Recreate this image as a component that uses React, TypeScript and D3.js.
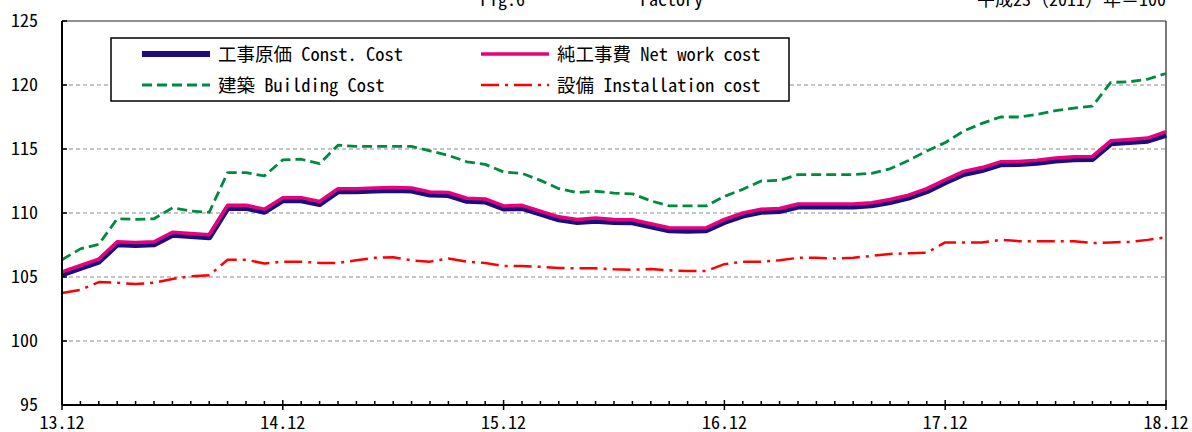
import React, { useEffect, useRef } from 'react';
import * as d3 from 'd3';

// monthly index, 2013.12 .. 2018.12 (61 points)
const tickLabels = ['13.12', '14.12', '15.12', '16.12', '17.12', '18.12'];
const yTicks = [95, 100, 105, 110, 115, 120, 125];

const constCost = [
  105.2, 105.7, 106.2, 107.55, 107.5, 107.55, 108.3, 108.2, 108.1, 110.4, 110.4, 110.1,
  111.0, 111.0, 110.7, 111.7, 111.7, 111.75, 111.8, 111.75, 111.45, 111.4, 110.95, 110.9,
  110.35, 110.4, 109.95, 109.5, 109.3, 109.4, 109.3, 109.27, 108.96, 108.65, 108.62, 108.65,
  109.3, 109.8, 110.1, 110.15, 110.5, 110.5, 110.5, 110.5, 110.6, 110.85, 111.2, 111.7,
  112.4, 113.05, 113.35, 113.8, 113.83, 113.93, 114.1, 114.2, 114.22, 115.44, 115.55, 115.65,
  116.1,
];

const netWorkCost = [
  105.4, 105.9, 106.4, 107.75, 107.7, 107.75, 108.5, 108.4, 108.3, 110.6, 110.6, 110.3,
  111.2, 111.2, 110.9, 111.9, 111.9, 111.95, 112.0, 111.95, 111.65, 111.6, 111.15, 111.1,
  110.55, 110.6, 110.15, 109.7, 109.5, 109.6, 109.5, 109.47, 109.16, 108.85, 108.82, 108.85,
  109.5, 110.0, 110.3, 110.35, 110.7, 110.7, 110.7, 110.7, 110.8, 111.05, 111.4, 111.9,
  112.6, 113.25, 113.55, 114.0, 114.03, 114.13, 114.3, 114.4, 114.42, 115.64, 115.75, 115.85,
  116.35,
];

const buildingCost = [
  106.35, 107.2, 107.55, 109.55, 109.5, 109.55, 110.4, 110.15, 110.05, 113.15, 113.15, 112.9,
  114.15, 114.2, 113.85, 115.3, 115.2, 115.2, 115.2, 115.2, 114.85, 114.5, 114.0, 113.8,
  113.2, 113.1, 112.55, 111.9, 111.6, 111.7, 111.55, 111.5, 110.95, 110.55, 110.55, 110.55,
  111.3, 111.85, 112.5, 112.55, 113.0, 113.0, 113.0, 113.0, 113.1, 113.45, 114.1, 114.85,
  115.5, 116.4, 117.0, 117.5, 117.5, 117.7, 118.0, 118.2, 118.35, 120.2, 120.25, 120.45,
  120.9,
];

const installationCost = [
  103.75, 104.0, 104.6, 104.55, 104.45, 104.55, 104.85, 105.05, 105.13, 106.35, 106.35, 106.05,
  106.2, 106.2, 106.1, 106.1, 106.3, 106.5, 106.55, 106.3, 106.2, 106.45, 106.2, 106.1,
  105.85, 105.85, 105.8, 105.7, 105.68, 105.68, 105.6, 105.57, 105.62, 105.52, 105.47, 105.47,
  106.0, 106.2, 106.2, 106.3, 106.5, 106.5, 106.45, 106.5, 106.65, 106.8, 106.85, 106.9,
  107.7, 107.7, 107.7, 107.9, 107.8, 107.8, 107.8, 107.8, 107.65, 107.7, 107.75, 107.9,
  108.1,
];

const series = [
  { jp: '建築', en: 'Building Cost', values: buildingCost, color: '#008a3e', width: 2.8, dash: '10,5' },
  { jp: '設備', en: 'Installation cost', values: installationCost, color: '#ff0000', width: 2.5, dash: '18,6,3,6' },
  { jp: '工事原価', en: 'Const. Cost', values: constCost, color: '#1c0d7e', width: 6, dash: null },
  { jp: '純工事費', en: 'Net work cost', values: netWorkCost, color: '#e8007f', width: 3.5, dash: null },
];

const FONT = "'Noto Sans Mono CJK JP', 'DejaVu Sans Mono', monospace";

const App = () => {
  const ref = useRef<SVGSVGElement>(null);

  useEffect(() => {
    const svg = d3.select(ref.current);
    svg.selectAll('*').remove();

    const width = 1192;
    const height = 432;
    const left = 62, right = 1166, top = 21, bottom = 405;

    const x = d3.scaleLinear().domain([0, 60]).range([left, right]);
    const y = d3.scaleLinear().domain([95, 125]).range([bottom, top]);

    svg.attr('width', width).attr('height', height);

    // gridlines
    svg.append('g')
      .selectAll('line')
      .data(yTicks.filter(d => d > 95 && d < 125))
      .enter()
      .append('line')
      .attr('x1', left)
      .attr('x2', right)
      .attr('y1', d => y(d))
      .attr('y2', d => y(d))
      .attr('stroke', '#8c8c8c')
      .attr('stroke-width', 1.2)
      .attr('stroke-dasharray', '4,3');

    // frame
    svg.append('line').attr('x1', left).attr('x2', right).attr('y1', top).attr('y2', top)
      .attr('stroke', '#222').attr('stroke-width', 1.2);
    svg.append('line').attr('x1', right).attr('x2', right).attr('y1', top).attr('y2', bottom)
      .attr('stroke', '#222').attr('stroke-width', 1.2);

    // lines
    const line = d3.line<number>()
      .x((d, i) => x(i))
      .y(d => y(d));

    series.forEach(s => {
      svg.append('path')
        .datum(s.values)
        .attr('d', line)
        .attr('fill', 'none')
        .attr('stroke', s.color)
        .attr('stroke-width', s.width)
        .attr('stroke-linejoin', 'round')
        .attr('stroke-dasharray', s.dash);
    });

    // axes
    svg.append('line').attr('x1', left).attr('x2', left).attr('y1', top).attr('y2', bottom)
      .attr('stroke', '#000').attr('stroke-width', 2);
    svg.append('line').attr('x1', left).attr('x2', right).attr('y1', bottom).attr('y2', bottom)
      .attr('stroke', '#000').attr('stroke-width', 2);

    // y ticks + labels
    const yg = svg.append('g');
    yTicks.forEach(t => {
      yg.append('line').attr('x1', left).attr('x2', left + 5).attr('y1', y(t)).attr('y2', y(t))
        .attr('stroke', '#000').attr('stroke-width', 1.5);
      yg.append('text')
        .attr('x', 38)
        .attr('y', y(t))
        .attr('dy', '0.36em')
        .attr('text-anchor', 'end')
        .attr('font-family', FONT)
        .attr('font-size', 18)
        .attr('fill', '#000')
        .text(t);
    });

    // x ticks
    const xg = svg.append('g');
    d3.range(0, 61).forEach(i => {
      const major = i % 12 === 0;
      xg.append('line')
        .attr('x1', x(i)).attr('x2', x(i))
        .attr('y1', major ? bottom + 5 : bottom)
        .attr('y2', major ? bottom - 5 : bottom - 4)
        .attr('stroke', '#000').attr('stroke-width', 1.5);
    });
    tickLabels.forEach((lab, k) => {
      xg.append('text')
        .attr('x', x(k * 12))
        .attr('y', 429)
        .attr('text-anchor', 'middle')
        .attr('font-family', FONT)
        .attr('font-size', 18)
        .attr('fill', '#000')
        .text(lab);
    });

    // header texts
    svg.append('text').attr('x', 480).attr('y', 6).attr('font-family', FONT).attr('font-size', 18)
      .text('Fig.6');
    svg.append('text').attr('x', 640).attr('y', 6).attr('font-family', FONT).attr('font-size', 18)
      .text('Factory');
    svg.append('text').attr('x', 1166).attr('y', 6).attr('text-anchor', 'end')
      .attr('font-family', FONT).attr('font-size', 18)
      .text('平成23（2011）年＝100');

    // legend
    const lg = svg.append('g');
    lg.append('rect')
      .attr('x', 111).attr('y', 38).attr('width', 678).attr('height', 63)
      .attr('fill', '#fff').attr('stroke', '#000').attr('stroke-width', 1.5);

    const legendOrder = [series[2], series[3], series[0], series[1]];
    legendOrder.forEach((s, i) => {
      const col = i % 2;
      const row = Math.floor(i / 2);
      const lx = col === 0 ? 142 : 481;
      const ly = row === 0 ? 54 : 85;
      lg.append('line')
        .attr('x1', lx).attr('x2', lx + 68).attr('y1', ly).attr('y2', ly)
        .attr('stroke', s.color)
        .attr('stroke-width', s.width)
        .attr('stroke-dasharray', s.dash);
      lg.append('text')
        .attr('x', lx + 76)
        .attr('y', ly)
        .attr('dy', '0.36em')
        .attr('font-family', FONT)
        .attr('font-size', 18.5)
        .attr('fill', '#000')
        .text(`${s.jp} ${s.en}`);
    });
  }, []);

  return (
    <div style={{ position: 'absolute', left: 0, top: 0 }}>
      <svg ref={ref}></svg>
    </div>
  );
};

export default App;
